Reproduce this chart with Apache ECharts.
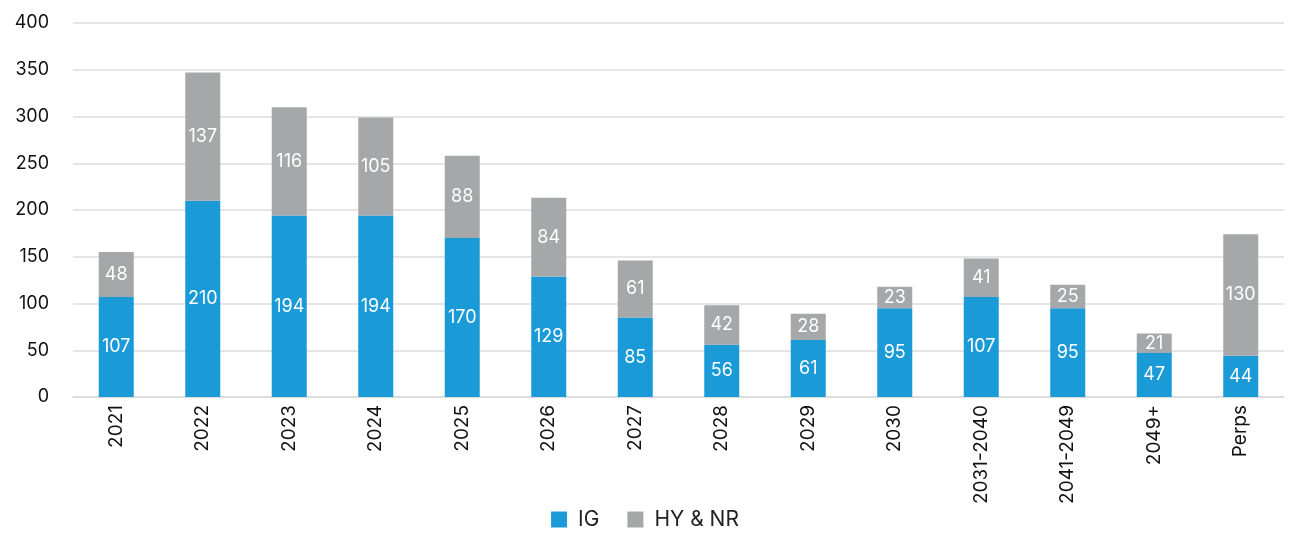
<!DOCTYPE html>
<html>
<head>
<meta charset="utf-8">
<script src="https://cdn.jsdelivr.net/npm/echarts@6/dist/echarts.min.js"></script>
<style>
  html, body { margin: 0; padding: 0; background: #fff; }
  #chart { width: 1290px; height: 535px; }
</style>
</head>
<body>
<div id="chart"></div>
<script>
const categories = ['2021', '2022', '2023', '2024', '2025', '2026', '2027', '2028', '2029', '2030', '2031-2040', '2041-2049', '2049+', 'Perps'];
const igValues = [107, 210, 194, 194, 170, 129, 85, 56, 61, 95, 107, 95, 47, 44];
const hyValues = [48, 137, 116, 105, 88, 84, 61, 42, 28, 23, 41, 25, 21, 130];

const font = 'Inter, "Noto Sans", sans-serif';
const myChart = echarts.init(document.getElementById('chart'));

const barLabel = {
    show: true,
    position: 'inside',
    color: '#fff',
    fontFamily: font,
    fontSize: 18,
};

const option = {
    animation: false,
    color: ['#1a9ad7', '#a5a7a8'],
    grid: { left: 73, right: 6, top: 23, bottom: 138 },
    legend: {
        bottom: 0,
        left: 'center',
        itemWidth: 16,
        itemHeight: 16,
        itemGap: 28,
        icon: 'rect',
        textStyle: { fontFamily: font, fontSize: 21, color: '#222', padding: [0, 0, 0, 6] },
        data: ['IG', 'HY & NR'],
    },
    xAxis: {
        type: 'category',
        data: categories,
        axisTick: { show: false },
        axisLine: { lineStyle: { color: '#d9d9d9', width: 1.5 } },
        axisLabel: {
            rotate: 90,
            margin: 8,
            color: '#111',
            fontFamily: font,
            fontSize: 19,
        },
    },
    yAxis: {
        type: 'value',
        min: 0,
        max: 400,
        interval: 50,
        axisLabel: {
            margin: 24,
            color: '#111',
            fontFamily: font,
            fontSize: 18,
        },
        splitLine: { lineStyle: { color: '#dcdcdc', width: 1.5 } },
    },
    series: [
        {
            name: 'IG',
            type: 'bar',
            stack: 'total',
            barWidth: 35,
            data: igValues,
            label: barLabel,
        },
        {
            name: 'HY & NR',
            type: 'bar',
            stack: 'total',
            barWidth: 35,
            data: hyValues,
            label: barLabel,
        },
    ],
};
myChart.setOption(option);
</script>
</body>
</html>
